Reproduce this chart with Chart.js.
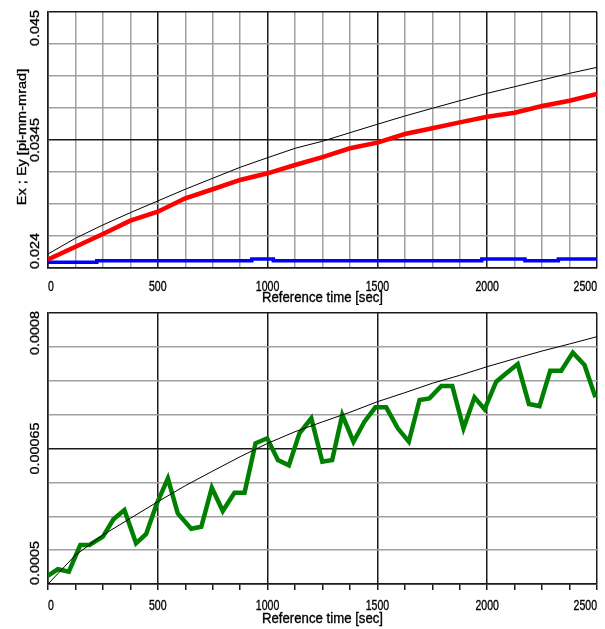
<!DOCTYPE html>
<html>
<head>
<meta charset="utf-8">
<script src="https://cdn.jsdelivr.net/npm/chart.js@4/dist/chart.umd.min.js"></script>
<style>
  html, body { margin: 0; padding: 0; background: #fff; }
  #wrap { position: relative; width: 605px; height: 629px; background: #fff; }
  canvas { position: absolute; left: 0; }
</style>
</head>
<body>
<div id="wrap">
  <canvas id="emitChart" width="605" height="305" style="top:0"></canvas>
  <canvas id="spreadChart" width="605" height="324" style="top:305px"></canvas>
</div>
<script>
// ---- emittance panel (upper) ----
const emitTime = [0, 125, 250, 375, 500, 625, 750, 875, 1000, 1125, 1250, 1375, 1500,
                  1625, 1750, 1875, 2000, 2125, 2250, 2375, 2500];
const emitModel = [0.02515, 0.02644, 0.02753, 0.02854, 0.0295, 0.03046, 0.03136, 0.03226,
                   0.03305, 0.03382, 0.0344, 0.0351, 0.03579, 0.03647, 0.0371, 0.03772,
                   0.03833, 0.03887, 0.03942, 0.03997, 0.04046];
const emitX = [0.0247, 0.02575, 0.02679, 0.02788, 0.02862, 0.02972, 0.03046, 0.03122,
               0.03177, 0.03245, 0.0331, 0.03382, 0.03428, 0.03499, 0.03546, 0.03595,
               0.03641, 0.03674, 0.03729, 0.03772, 0.03827];
const emitYTime = [0, 222, 222, 928, 928, 1026, 1026, 1975, 1975, 2172, 2172, 2324, 2324, 2500];
const emitY = [0.02447, 0.02447, 0.0246, 0.0246, 0.02474, 0.02474, 0.0246, 0.0246,
               0.02474, 0.02474, 0.0246, 0.0246, 0.02474, 0.02474];

// ---- momentum spread panel (lower) ----
const spreadModelTime = [0, 125, 250, 375, 500, 625, 750, 875, 1000, 1125, 1250, 1375, 1500,
                         1625, 1750, 1875, 2000, 2125, 2250, 2375, 2500];
const spreadModel = [0.0005, 0.000532, 0.0005542, 0.0005727, 0.0005911, 0.0006088, 0.000625,
                     0.0006409, 0.0006557, 0.0006686, 0.0006795, 0.0006901, 0.0007018,
                     0.0007118, 0.0007222, 0.000731, 0.0007406, 0.0007494, 0.0007579,
                     0.0007657, 0.0007738];
const spreadTime = [0, 45, 95, 147, 189, 250, 298, 348, 401, 447, 496, 546, 591, 652, 698,
                    746, 796, 849, 895, 945, 998, 1047, 1097, 1145, 1199, 1249, 1294, 1340,
                    1391, 1441, 1491, 1540, 1593, 1643, 1692, 1737, 1791, 1841, 1892, 1942,
                    1988, 2041, 2087, 2139, 2190, 2238, 2287, 2337, 2390, 2443, 2493];
const spreadValue = [0.0005092, 0.0005163, 0.0005136, 0.0005432, 0.0005432, 0.0005524,
                     0.0005716, 0.0005819, 0.000545, 0.0005554, 0.0005893, 0.000617,
                     0.0005782, 0.0005612, 0.0005634, 0.0006066, 0.0005808, 0.0006011,
                     0.0006011, 0.0006558, 0.0006613, 0.0006373, 0.0006314, 0.0006668,
                     0.0006834, 0.0006354, 0.0006373, 0.0006871, 0.0006575, 0.0006797,
                     0.0006956, 0.0006956, 0.0006723, 0.0006575, 0.0007037, 0.0007055,
                     0.0007192, 0.0007192, 0.0006723, 0.0007066, 0.0006934, 0.000724,
                     0.0007332, 0.0007435, 0.0006993, 0.000697, 0.0007361, 0.0007361,
                     0.0007561, 0.0007424, 0.0007066];

// ---- axes ----
const timeGridTicks = [0, 125, 250, 375, 500, 625, 750, 875, 1000, 1125, 1250, 1375, 1500,
                       1625, 1750, 1875, 2000, 2125, 2250, 2375, 2500];
const timeLabelTicks = [0, 500, 1000, 1500, 2000, 2500];
const emitGridTicks = [0.024, 0.026625, 0.02925, 0.031875, 0.0345, 0.037125, 0.03975, 0.042375, 0.045];
const emitLabelTicks = [0.024, 0.0345, 0.045];
const emitLabelText = ['0.024', '0.0345', '0.045'];
const spreadGridTicks = [0.0005, 0.0005375, 0.000575, 0.0006125, 0.00065, 0.0006875, 0.000725, 0.0007625, 0.0008];
const spreadLabelTicks = [0.0005, 0.00065, 0.0008];
const spreadLabelText = ['0.0005', '0.00065', '0.0008'];

const FONT = '12px "Liberation Sans", Arial, Helvetica, sans-serif';
// stretch factors: [along the text, across the text]
const X_TICK_STRETCH = [0.88, 1.2];
const X_TITLE_STRETCH = [1.1, 1.15];
const Y_TICK_STRETCH = [1.2, 1.1];
const Y_TITLE_STRETCH = [1.21, 1.1];
const MINOR = '#a0a0a0';
const MAJOR = '#1a1a1a';

function pts(xs, ys) { return xs.map((t, i) => ({ x: t, y: ys[i] })); }

function drawStretched(ctx, str, x, y, vertical, stretch) {
  ctx.save();
  ctx.translate(x, y);
  if (vertical) ctx.rotate(-Math.PI / 2);
  ctx.scale(stretch[0], stretch[1]);
  ctx.textAlign = 'center';
  ctx.textBaseline = 'middle';
  ctx.fillText(str, 0, 0);
  ctx.lineWidth = 0.3;
  ctx.strokeText(str, 0, 0);
  ctx.restore();
}

// axis labels and titles, positioned through the chart's own scales
const axisText = {
  id: 'axisText',
  afterDraw(chart, args, o) {
    const { ctx, chartArea: a } = chart;
    const xs = chart.scales.x, ys = chart.scales.y;
    ctx.save();
    ctx.font = FONT;
    ctx.fillStyle = '#000';
    ctx.strokeStyle = '#000';
    o.xTicks.forEach(v => {
      const s = String(v);
      const w = ctx.measureText(s).width * X_TICK_STRETCH[0];
      let px = xs.getPixelForValue(v);
      px = Math.min(Math.max(px, a.left + w / 2), a.right - w / 2);
      drawStretched(ctx, s, px, a.bottom + o.xLabelGap, false, X_TICK_STRETCH);
    });
    drawStretched(ctx, o.xTitle, (a.left + a.right) / 2, a.bottom + o.xTitleGap, false, X_TITLE_STRETCH);
    o.yTicks.forEach((v, i) => {
      const s = o.yText[i];
      const h = ctx.measureText(s).width * Y_TICK_STRETCH[0];
      let py = ys.getPixelForValue(v);
      py = Math.min(Math.max(py, a.top - 2 + h / 2), a.bottom + 1 - h / 2);
      drawStretched(ctx, s, o.yLabelX, py, true, Y_TICK_STRETCH);
    });
    drawStretched(ctx, o.yTitle, o.yTitleX, o.yTitleY, true, Y_TITLE_STRETCH);
    ctx.restore();
  }
};

const isMajorTime = c => c.tick && (c.tick.value % 500 === 0);
const isMajorLevel = c => c.index === 0 || c.index === 4 || c.index === 8;

function makeChart(id, cfg) {
  return new Chart(document.getElementById(id), {
    type: 'line',
    data: { datasets: cfg.datasets },
    options: {
      responsive: false,
      animation: false,
      events: [],
      layout: { padding: cfg.padding },
      plugins: { legend: { display: false }, tooltip: { enabled: false }, axisText: cfg.text },
      elements: { point: { radius: 0 }, line: { tension: 0, borderCapStyle: 'butt', borderJoinStyle: 'miter' } },
      scales: {
        x: {
          type: 'linear', min: 0, max: 2500,
          afterBuildTicks: s => { s.ticks = timeGridTicks.map(v => ({ value: v })); },
          afterFit: s => { s.height = 0; },
          ticks: { display: false },
          border: { display: true, color: MAJOR, width: 1.5 },
          grid: cfg.xGrid
        },
        y: {
          type: 'linear', min: cfg.yMin, max: cfg.yMax,
          afterBuildTicks: s => { s.ticks = cfg.yGridTicks.map(v => ({ value: v })); },
          afterFit: s => { s.width = 0; },
          ticks: { display: false },
          border: { display: true, color: MAJOR, width: 1.5 },
          grid: {
            drawTicks: false,
            lineWidth: 1.5,
            color: c => (isMajorLevel(c) ? MAJOR : MINOR)
          }
        }
      }
    },
    plugins: [axisText]
  });
}

makeChart('emitChart', {
  padding: { left: 48, top: 12, right: 8, bottom: 37 },
  yMin: 0.024, yMax: 0.045,
  yGridTicks: emitGridTicks,
  xGrid: {
    drawTicks: false,
    lineWidth: 1.5,
    color: c => (isMajorTime(c) ? MAJOR : MINOR)
  },
  datasets: [
    { data: pts(emitTime, emitModel), borderColor: '#000000', borderWidth: 1 },
    { data: pts(emitTime, emitX), borderColor: '#ff0000', borderWidth: 4.5 },
    { data: pts(emitYTime, emitY), borderColor: '#0000ff', borderWidth: 3.5 }
  ],
  text: {
    xTicks: timeLabelTicks, xLabelGap: 19.5, xTitle: 'Reference time [sec]', xTitleGap: 30.5,
    yTicks: emitLabelTicks, yText: emitLabelText, yLabelX: 35,
    yTitle: 'Ex ; Ey [pi-mm-mrad]', yTitleX: 22, yTitleY: 137
  }
});

makeChart('spreadChart', {
  padding: { left: 48, top: 8, right: 8, bottom: 45 },
  yMin: 0.0005, yMax: 0.0008,
  yGridTicks: spreadGridTicks,
  xGrid: {
    drawTicks: true, tickLength: 6, lineWidth: 1.5,
    color: c => (isMajorTime(c) ? MAJOR : 'rgba(0,0,0,0)'),
    tickColor: MAJOR
  },
  datasets: [
    { data: pts(spreadModelTime, spreadModel), borderColor: '#000000', borderWidth: 1 },
    { data: pts(spreadTime, spreadValue), borderColor: '#008000', borderWidth: 4.5 }
  ],
  text: {
    xTicks: timeLabelTicks, xLabelGap: 22, xTitle: 'Reference time [sec]', xTitleGap: 35,
    yTicks: spreadLabelTicks, yText: spreadLabelText, yLabelX: 35,
    yTitle: 'dP / P', yTitleX: 22, yTitleY: 438
  }
});
</script>
</body>
</html>
